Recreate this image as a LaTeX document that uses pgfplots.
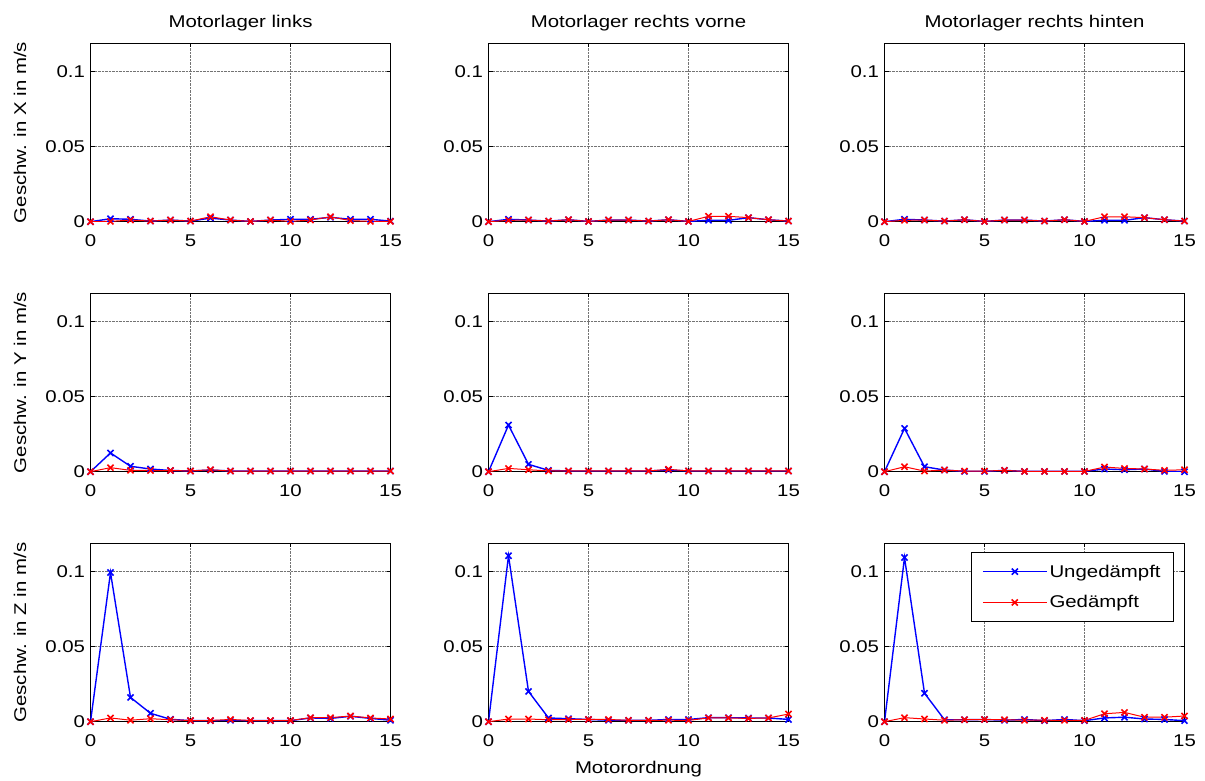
\documentclass[border=0pt]{standalone}
\usepackage{fontspec}
\setmainfont{Liberation Sans}[FakeStretch=1.2]
\usepackage{pgfplots}
\usepackage{pgfplotstable}
\pgfplotsset{compat=1.18}

% columns: x, Ungedaempft, Gedaempft
\pgfplotstableread{
x ub gd
0 0 0
1 0.0020 0.0002
2 0.0016 0.0011
3 0.0004 0.0004
4 0.0011 0.0011
5 0.0004 0.0004
6 0.0024 0.0033
7 0.0011 0.0011
8 0.0002 0.0002
9 0.0011 0.0011
10 0.0016 0.0002
11 0.0016 0.0011
12 0.0029 0.0033
13 0.0016 0.0007
14 0.0016 0.0002
15 0.0004 0.0002
}\XL
\pgfplotstableread{
x ub gd
0 0 0
1 0.0016 0.0009
2 0.0011 0.0011
3 0.0004 0.0004
4 0.0013 0.0013
5 0.0002 0.0002
6 0.0011 0.0011
7 0.0011 0.0011
8 0.0004 0.0004
9 0.0013 0.0013
10 0.0002 0.0002
11 0.0009 0.0036
12 0.0009 0.0036
13 0.0027 0.0027
14 0.0013 0.0013
15 0.0004 0.0004
}\XM
\pgfplotstableread{
x ub gd
0 0 0
1 0.0016 0.0009
2 0.0011 0.0011
3 0.0004 0.0004
4 0.0013 0.0013
5 0.0002 0.0002
6 0.0011 0.0011
7 0.0011 0.0011
8 0.0004 0.0004
9 0.0013 0.0013
10 0.0002 0.0002
11 0.0009 0.0033
12 0.0009 0.0033
13 0.0027 0.0027
14 0.0013 0.0013
15 0.0004 0.0004
}\XR
\pgfplotstableread{
x ub gd
0 0 0
1 0.0125 0.0027
2 0.0036 0.0009
3 0.0018 0.0008
4 0.0008 0.0008
5 0.0005 0.0005
6 0.0011 0.0013
7 0.0005 0.0004
8 0.0005 0.0004
9 0.0005 0.0004
10 0.0005 0.0004
11 0.0005 0.0004
12 0.0005 0.0004
13 0.0005 0.0004
14 0.0005 0.0004
15 0.0005 0.0004
}\YL
\pgfplotstableread{
x ub gd
0 0 0
1 0.0311 0.0022
2 0.0049 0.0013
3 0.0009 0.0005
4 0.0005 0.0005
5 0.0005 0.0005
6 0.0005 0.0005
7 0.0005 0.0005
8 0.0005 0.0005
9 0.0011 0.0016
10 0.0005 0.0005
11 0.0005 0.0005
12 0.0005 0.0005
13 0.0005 0.0005
14 0.0005 0.0005
15 0.0005 0.0005
}\YM
\pgfplotstableread{
x ub gd
0 0 0
1 0.0289 0.0033
2 0.0033 0.0004
3 0.0011 0.0011
4 0.0002 0.0004
5 0.0002 0.0004
6 0.0009 0.0009
7 0.0002 0.0002
8 0.0002 0.0002
9 0.0002 0.0002
10 0.0002 0.0002
11 0.0018 0.0031
12 0.0013 0.0022
13 0.0018 0.0018
14 0.0002 0.0009
15 0.0000 0.0013
}\YR
\pgfplotstableread{
x ub gd
0 0 0
1 0.0995 0.0025
2 0.0162 0.0010
3 0.0056 0.0020
4 0.0016 0.0013
5 0.0007 0.0008
6 0.0007 0.0008
7 0.0009 0.0015
8 0.0007 0.0008
9 0.0007 0.0008
10 0.0007 0.0008
11 0.0025 0.0027
12 0.0022 0.0027
13 0.0036 0.0038
14 0.0022 0.0025
15 0.0010 0.0018
}\ZL
\pgfplotstableread{
x ub gd
0 0 0
1 0.1107 0.0018
2 0.0202 0.0018
3 0.0025 0.0013
4 0.0020 0.0015
5 0.0015 0.0015
6 0.0010 0.0015
7 0.0009 0.0009
8 0.0009 0.0009
9 0.0015 0.0010
10 0.0015 0.0009
11 0.0027 0.0025
12 0.0027 0.0025
13 0.0025 0.0022
14 0.0025 0.0025
15 0.0015 0.0051
}\ZM
\pgfplotstableread{
x ub gd
0 0 0
1 0.1095 0.0027
2 0.0190 0.0018
3 0.0013 0.0010
4 0.0013 0.0013
5 0.0015 0.0015
6 0.0010 0.0013
7 0.0015 0.0010
8 0.0007 0.0010
9 0.0015 0.0009
10 0.0007 0.0009
11 0.0025 0.0053
12 0.0030 0.0062
13 0.0018 0.0030
14 0.0015 0.0030
15 0.0007 0.0038
}\ZR

\newcommand{\fs}{\fontsize{17}{20}\selectfont}

\pgfplotsset{
  mstyle/.style={
    width=300pt, height=178.4pt, scale only axis,
    xmin=0, xmax=15, ymin=0, ymax=0.119,
    xtick={0,5,10,15}, ytick={0,0.05,0.1},
    xticklabels={0,5,10,15}, yticklabels={0,0.05,0.1},
    grid=major,
    major grid style={densely dotted, black!55, line width=0.6pt},
    axis line style={black, line width=1pt},
    tick style={black, line width=1pt},
    major tick length=4pt,
    tick align=inside,
    /pgf/number format/assume math mode=true,
    xticklabel style={font=\fs, anchor=base, yshift=-24.5pt},
    yticklabel style={font=\fs, xshift=-2pt},
    every axis y label/.style={at={(axis description cs:-0.235,0.5)}, rotate=90, anchor=center, font=\fs},
    every axis x label/.style={at={(axis description cs:0.5,0)}, anchor=base, yshift=-52pt, font=\fs},
    every axis title/.style={at={(axis description cs:0.5,1)}, anchor=base, yshift=16pt, font=\fs},
    legend image code/.code={\draw[mark repeat=2,mark phase=2,##1] plot coordinates {(0pt,0pt) (32pt,0pt) (64pt,0pt)};},
  },
  ub/.style={blue, line width=1.4pt, mark=x, mark size=4.3pt, mark options={solid, line width=1.6pt}},
  gd/.style={red, line width=1pt, mark=x, mark size=4.3pt, mark options={solid, line width=1.6pt}},
}

\begin{document}
\begin{tikzpicture}[x=1pt,y=1pt]
\useasboundingbox (0,0) rectangle (1205,-781);
% Row 1
\begin{axis}[mstyle, at={(90.5pt,-43.3pt)}, anchor=north west, title={Motorlager links}, ylabel={Geschw. in X in m/s}]
\addplot[ub] table[x=x,y=ub]{\XL};
\addplot[gd] table[x=x,y=gd]{\XL};
\end{axis}
\begin{axis}[mstyle, at={(488.5pt,-43.3pt)}, anchor=north west, title={Motorlager rechts vorne}]
\addplot[ub] table[x=x,y=ub]{\XM};
\addplot[gd] table[x=x,y=gd]{\XM};
\end{axis}
\begin{axis}[mstyle, at={(884.5pt,-43.3pt)}, anchor=north west, title={Motorlager rechts hinten}]
\addplot[ub] table[x=x,y=ub]{\XR};
\addplot[gd] table[x=x,y=gd]{\XR};
\end{axis}
% Row 2
\begin{axis}[mstyle, at={(90.5pt,-293.3pt)}, anchor=north west, ylabel={Geschw. in Y in m/s}]
\addplot[ub] table[x=x,y=ub]{\YL};
\addplot[gd] table[x=x,y=gd]{\YL};
\end{axis}
\begin{axis}[mstyle, at={(488.5pt,-293.3pt)}, anchor=north west]
\addplot[ub] table[x=x,y=ub]{\YM};
\addplot[gd] table[x=x,y=gd]{\YM};
\end{axis}
\begin{axis}[mstyle, at={(884.5pt,-293.3pt)}, anchor=north west]
\addplot[ub] table[x=x,y=ub]{\YR};
\addplot[gd] table[x=x,y=gd]{\YR};
\end{axis}
% Row 3
\begin{axis}[mstyle, at={(90.5pt,-543.3pt)}, anchor=north west, ylabel={Geschw. in Z in m/s}]
\addplot[ub] table[x=x,y=ub]{\ZL};
\addplot[gd] table[x=x,y=gd]{\ZL};
\end{axis}
\begin{axis}[mstyle, at={(488.5pt,-543.3pt)}, anchor=north west, xlabel={Motorordnung}]
\addplot[ub] table[x=x,y=ub]{\ZM};
\addplot[gd] table[x=x,y=gd]{\ZM};
\end{axis}
\begin{axis}[mstyle, at={(884.5pt,-543.3pt)}, anchor=north west,
  legend cell align=left,
  legend style={at={(0.287,0.95)}, anchor=north west, draw=black, line width=1pt,
    fill=white, font=\fs, inner xsep=11pt, inner ysep=10pt, row sep=13pt,
    /tikz/every even column/.append style={column sep=13pt}}]
\addplot[ub] table[x=x,y=ub]{\ZR};
\addplot[gd] table[x=x,y=gd]{\ZR};
\legend{Ungedämpft,Gedämpft}
\end{axis}
\end{tikzpicture}
\end{document}
